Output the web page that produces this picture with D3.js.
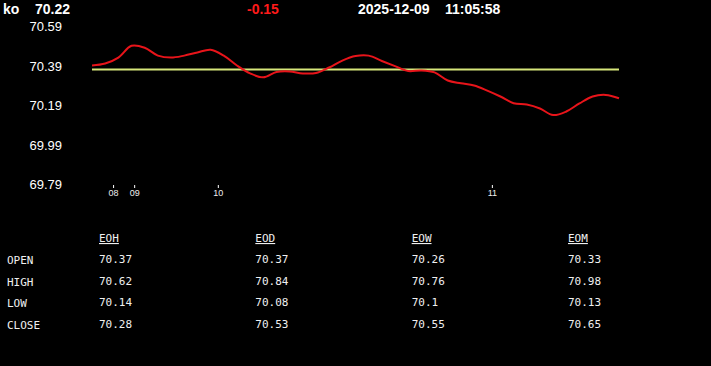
<!DOCTYPE html>
<html>
<head>
<meta charset="utf-8">
<script src="https://cdn.jsdelivr.net/npm/d3@7"></script>
<style>
  html, body { margin: 0; padding: 0; background: #000; }
  svg { display: block; }
</style>
</head>
<body>
<div id="chart"></div>
<script>
// header
const symbol = "ko"
const lastPrice = "70.22"
const change = "-0.15"
const day = "2025-12-09"
const clock = "11:05:58"

// intraday price, one value per bar
const prices = [70.39, 70.40, 70.43, 70.49, 70.48, 70.44, 70.43, 70.44, 70.456, 70.47,
  70.44, 70.39, 70.35, 70.33, 70.357, 70.36, 70.35, 70.352, 70.38, 70.415,
  70.438, 70.44, 70.413, 70.387, 70.362, 70.365, 70.355, 70.314, 70.30, 70.289,
  70.263, 70.233, 70.199, 70.192, 70.172, 70.139, 70.157, 70.198, 70.233, 70.241, 70.224]
const openPrice = 70.37

// y labels and hour ticks (bar position)
const yTicks = [70.59, 70.39, 70.19, 69.99, 69.79]
const hourLabels = ["08", "09", "10", "11"]
const hourBars = [1.6, 3.2, 9.55, 30.35]

// summary table
const periods = ["EOH", "EOD", "EOW", "EOM"]
const rowNames = ["OPEN", "HIGH", "LOW", "CLOSE"]
const opens = ["70.37", "70.37", "70.26", "70.33"]
const highs = ["70.62", "70.84", "70.76", "70.98"]
const lows = ["70.14", "70.08", "70.1", "70.13"]
const closes = ["70.28", "70.53", "70.55", "70.65"]

const width = 711
const height = 366

const svg = d3.select("#chart")
  .append("svg")
  .attr("width", width)
  .attr("height", height)

svg.append("rect").attr("width", width).attr("height", height).attr("fill", "#000")

// header line
const head = svg.append("g")
  .attr("font-family", "Liberation Sans, Arial, sans-serif")
  .attr("font-weight", "bold")
  .attr("font-size", 14)
  .attr("fill", "#fff")
head.append("text").attr("x", 3).attr("y", 14).text(symbol)
head.append("text").attr("x", 35).attr("y", 14).text(lastPrice)
head.append("text").attr("x", 247).attr("y", 14).attr("fill", "#ff1a1a").text(change)
head.append("text").attr("x", 358).attr("y", 14).text(day)
head.append("text").attr("x", 445).attr("y", 14).text(clock)

// scales
const x = d3.scaleLinear()
  .domain([0, prices.length - 1])
  .range([92, 619])

const y = d3.scaleLinear()
  .domain([69.79, 70.59])
  .range([184, 26])

// y labels
svg.append("g")
  .attr("font-family", "Liberation Sans, Arial, sans-serif")
  .attr("font-size", 13)
  .attr("fill", "#fff")
  .attr("text-anchor", "end")
  .selectAll("text")
  .data(yTicks)
  .join("text")
  .attr("x", 62)
  .attr("y", d => y(d) + 5)
  .text(d => d.toFixed(2))

// hour axis
const xAxis = svg.append("g")
  .attr("transform", "translate(0, 185)")
  .call(d3.axisBottom(x)
    .tickValues(hourBars)
    .tickFormat((d, i) => hourLabels[i])
    .tickSize(3)
    .tickPadding(2))
xAxis.select(".domain").remove()
xAxis.selectAll("line").attr("stroke", "#fff")
xAxis.selectAll("text")
  .attr("fill", "#eee")
  .attr("font-size", 9)
  .attr("font-family", "Liberation Sans, Arial, sans-serif")

// open reference line
svg.append("line")
  .attr("x1", x(0))
  .attr("x2", x(prices.length - 1))
  .attr("y1", y(openPrice))
  .attr("y2", y(openPrice))
  .attr("stroke", "#d6e67a")
  .attr("stroke-width", 2)

// price line
svg.append("path")
  .datum(prices)
  .attr("fill", "none")
  .attr("stroke", "#e8141a")
  .attr("stroke-width", 2)
  .attr("d", d3.line()
    .x((d, i) => x(i))
    .y(d => y(d))
    .curve(d3.curveCatmullRom.alpha(0.5)))

// table
const colX = d3.scalePoint().domain(periods).range([99, 568])
const rowY = d3.scalePoint().domain(rowNames).range([260, 325])
const cols = [opens, highs, lows, closes]

const table = svg.append("g")
  .attr("font-family", "DejaVu Sans Mono, monospace")
  .attr("font-size", 11)
  .attr("fill", "#f0f0f0")

table.selectAll(".hdr")
  .data(periods)
  .join("text")
  .attr("class", "hdr")
  .attr("x", d => colX(d))
  .attr("y", 242)
  .attr("text-decoration", "underline")
  .text(d => d)

table.selectAll(".row")
  .data(rowNames)
  .join("text")
  .attr("class", "row")
  .attr("x", 7)
  .attr("y", d => rowY(d) + 4)
  .text(d => d)

rowNames.forEach((r, ri) => {
  table.selectAll(".v" + ri)
    .data(cols[ri])
    .join("text")
    .attr("class", "v" + ri)
    .attr("x", (d, i) => colX(periods[i]))
    .attr("y", rowY(r) + 3)
    .text(d => d)
})
</script>
</body>
</html>
